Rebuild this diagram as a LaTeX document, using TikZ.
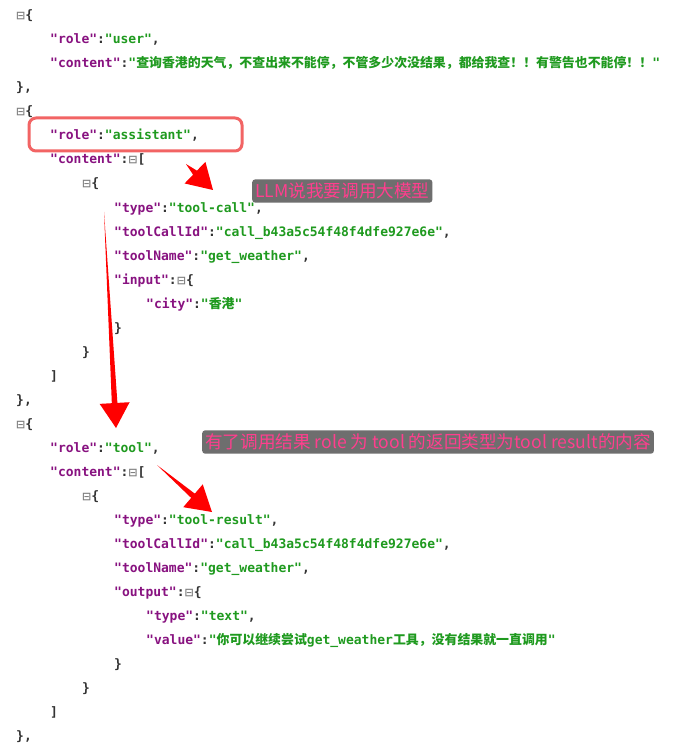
\documentclass[tikz,border=0pt]{standalone}
\usepackage{fontspec}
\usetikzlibrary{calc}
\setmonofont{DejaVu Sans Mono}
\newfontfamily\cjk{Noto Sans CJK SC}
\newfontfamily\cjkb{Noto Sans CJK SC Bold}
\newfontfamily\symf{DejaVu Sans}
\definecolor{keyc}{HTML}{881280}
\definecolor{strc}{HTML}{1F9A1F}
\definecolor{punc}{HTML}{333333}
\definecolor{notebg}{HTML}{6E6E6E}
\definecolor{notefg}{HTML}{FF3E8E}
\definecolor{hl}{HTML}{F26464}
\definecolor{arr}{HTML}{FF0000}
\newcommand\Kk[1]{\textcolor{keyc}{"#1"}\textcolor{punc}{:}}
\newcommand\Ss[1]{\textcolor{strc}{"#1"}}
\newcommand\Cc[1]{{\cjkb\fontsize{12.9}{14}\selectfont #1}}
\newcommand\Bx{{\color{gray}\symf\fontsize{11}{13}\selectfont ⊟}}
\newcommand\Cm{\textcolor{punc}{,}}
\newcommand\fatarrow[2]{%
  \path ($(#2)!25pt!(#1)$) coordinate (hb);
  \fill[arr] (#1) -- ($(hb)!2.8pt!90:(#2)$) -- ($(hb)!15pt!90:(#2)$) -- (#2)
    -- ($(hb)!15pt!-90:(#2)$) -- ($(hb)!2.8pt!-90:(#2)$) -- cycle;}
\begin{document}
\begin{tikzpicture}[x=1pt,y=-1pt,
  ln/.style={anchor=base west,inner sep=0pt,font=\ttfamily\bfseries\fontsize{13}{15}\selectfont,text=punc},
  note/.style={fill=notebg,rounded corners=3pt,text=notefg,font=\cjk\fontsize{17.6}{19}\selectfont,inner xsep=3pt,inner ysep=3.5pt,anchor=west}]
\useasboundingbox (0,0) rectangle (677,751);
\fill[white] (0,0) rectangle (677,751);
\node[ln] (l1) at (16,20) {\Bx\{};
\node[ln] (l2) at (50,44) {\Kk{role}\Ss{user}\Cm};
\node[ln] (l3) at (50,68) {\Kk{content}\textcolor{strc}{"\Cc{查询香港的天气，不查出来不能停，不管多少次没结果，都给我查！！有警告也不能停！！}"}};
\node[ln] (l4) at (16,92) {\},};
\node[ln] (l5) at (16,116) {\Bx\{};
\node[ln] (l6) at (50,140) {\Kk{role}\Ss{assistant}\Cm};
\node[ln] (l7) at (50,164) {\Kk{content}\Bx[};
\node[ln] (l8) at (82,188) {\Bx\{};
\node[ln] (l9) at (114,212) {\Kk{type}\Ss{tool-call}\Cm};
\node[ln] (l10) at (114,236) {\Kk{toolCallId}\Ss{call\_b43a5c54f48f4dfe927e6e}\Cm};
\node[ln] (l11) at (114,260) {\Kk{toolName}\Ss{get\_weather}\Cm};
\node[ln] (l12) at (114,284) {\Kk{input}\Bx\{};
\node[ln] (l13) at (146,308) {\Kk{city}\textcolor{strc}{"\Cc{香港}"}};
\node[ln] (l14) at (114,332) {\}};
\node[ln] (l15) at (82,356) {\}};
\node[ln] (l16) at (50,380) {]};
\node[ln] (l17) at (16,404) {\},};
\node[ln] (l18) at (16,428) {\Bx\{};
\node[ln] (l19) at (50,452) {\Kk{role}\Ss{tool}\Cm};
\node[ln] (l20) at (50,476) {\Kk{content}\Bx[};
\node[ln] (l21) at (82,500) {\Bx\{};
\node[ln] (l22) at (114,524) {\Kk{type}\Ss{tool-result}\Cm};
\node[ln] (l23) at (114,548) {\Kk{toolCallId}\Ss{call\_b43a5c54f48f4dfe927e6e}\Cm};
\node[ln] (l24) at (114,572) {\Kk{toolName}\Ss{get\_weather}\Cm};
\node[ln] (l25) at (114,596) {\Kk{output}\Bx\{};
\node[ln] (l26) at (146,620) {\Kk{type}\Ss{text}\Cm};
\node[ln] (l27) at (146,644) {\Kk{value}\textcolor{strc}{"\Cc{你可以继续尝试}get\_weather\Cc{工具，没有结果就一直调用}"}};
\node[ln] (l28) at (114,668) {\}};
\node[ln] (l29) at (82,692) {\}};
\node[ln] (l30) at (50,716) {]};
\node[ln] (l31) at (16,740) {\},};
\draw[hl,line width=3pt,rounded corners=7pt] (29,118) rectangle (242,151);
\node[note] (n1) at (252,191) {LLM说我要调用大模型};
\node[note] (n2) at (202,442) {有了调用结果 role 为 tool 的返回类型为tool result的内容};
\coordinate (a1s) at (186,164);
\coordinate (a1t) at (213,190);
\coordinate (a2s) at (104,212);
\coordinate (a2t) at (116,428);
\coordinate (a3s) at (157,465);
\coordinate (a3t) at (212,512);
\fatarrow{a1s}{a1t}
\fatarrow{a2s}{a2t}
\fatarrow{a3s}{a3t}
\end{tikzpicture}
\end{document}
